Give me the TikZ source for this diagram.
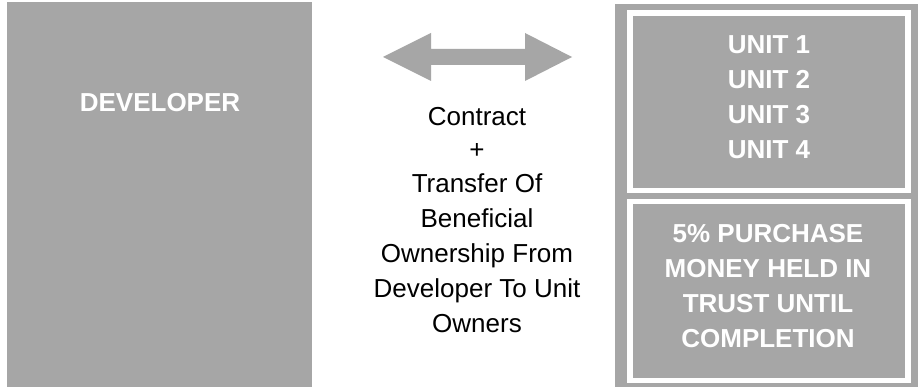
\documentclass[tikz,border=0pt]{standalone}
\usepackage{fontspec}
\setmainfont{Liberation Sans}
\definecolor{panelgray}{HTML}{A6A6A6}
\begin{document}
\begin{tikzpicture}[x=1pt,y=-1pt,
  panel/.style={fill=panelgray,draw=none},
  frame/.style={fill=white,draw=none},
  whitetext/.style={text=white,font=\fontsize{26}{35}\selectfont\bfseries,align=center,inner sep=0pt},
  blacktext/.style={text=black,font=\fontsize{26}{35}\selectfont,align=center,inner sep=0pt}]
\useasboundingbox[fill=white] (0,0) rectangle (918,387);

% developer panel
\fill[panel] (7,2) rectangle (312,387);
\coordinate (dev) at (160,103);
\node[whitetext] (devtext) at (dev) {DEVELOPER};

% double-headed arrow
\fill[panel] (383,57) -- (431,33) -- (431,49) -- (525,49) -- (525,33) -- (572,57)
  -- (525,81) -- (525,65) -- (431,65) -- (431,81) -- cycle;

% contract text, anchored on the baseline of its last line
\node[blacktext,anchor=south] (contract) at (477,333.3)
  {Contract\\[-2pt]+\\[-1pt]Transfer Of\\Beneficial\\Ownership From\\Developer To Unit\\Owners};

% right-hand panel with two framed boxes
\fill[panel] (615,4) rectangle (918,387);
\fill[frame] (627,10) rectangle (911,193);
\fill[panel] (633,16) rectangle (905,188);
\fill[frame] (627,199) rectangle (911,383);
\fill[panel] (633,204) rectangle (905,378);

\node[whitetext] (units) at (769,97) {UNIT 1\\UNIT 2\\UNIT 3\\UNIT 4};
\node[whitetext] (trust) at (768,286) {5\% PURCHASE\\MONEY HELD IN\\TRUST UNTIL\\COMPLETION};
\end{tikzpicture}
\end{document}
